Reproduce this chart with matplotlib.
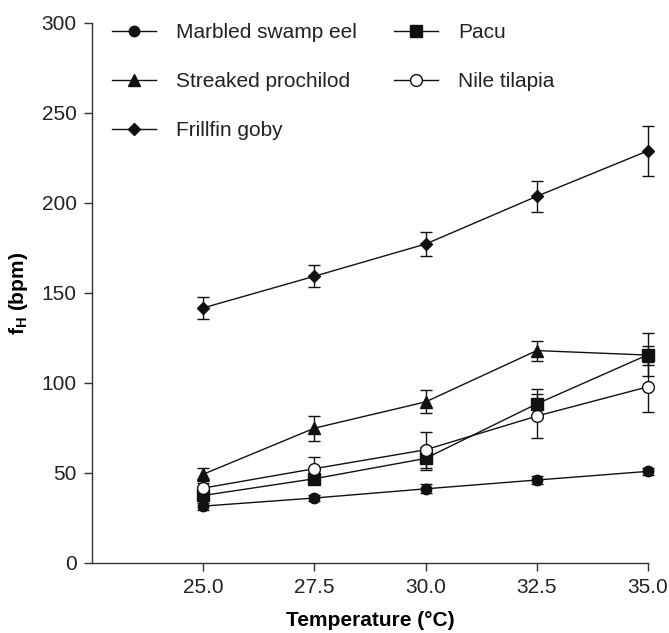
import numpy as np
import matplotlib.pyplot as plt

plt.rcParams['font.family'] = ['Liberation Sans', 'DejaVu Sans']
plt.rcParams['mathtext.fontset'] = 'custom'
plt.rcParams['mathtext.rm'] = 'Liberation Sans'
plt.rcParams['mathtext.bf'] = 'Liberation Sans:bold'

# ---------------- data ----------------
temperature = [25.0, 27.5, 30.0, 32.5, 35.0]

eel = [31.6, 36.1, 41.2, 46.1, 50.9]
eel_err = [2.0, 1.5, 2.5, 2.0, 2.0]

pacu = [37.5, 46.8, 58.1, 88.4, 115.7]
pacu_err = [3.0, 3.0, 6.5, 8.0, 12.0]

prochilod = [49.3, 74.9, 89.5, 118.0, 115.5]
prochilod_err = [3.5, 7.0, 6.4, 5.6, 5.3]

tilapia = [41.6, 52.4, 62.9, 81.6, 97.9]
tilapia_err = [3.0, 6.4, 10.0, 12.3, 14.0]

goby = [141.7, 159.3, 177.2, 203.7, 229.0]
goby_err = [6.0, 6.0, 6.5, 8.5, 14.0]

# ---------------- plot ----------------
fig = plt.figure(figsize=(6.69, 6.33), dpi=100)
ax = fig.add_axes([0.1375, 0.1106, 0.8311, 0.8531])

ink = '#111111'
common = dict(color=ink, lw=1.0, elinewidth=1.0, capsize=4, capthick=1.0,
              markeredgecolor=ink, clip_on=False)

h_eel = ax.errorbar(temperature, eel, yerr=eel_err, marker='o', ms=7.5,
                    mfc=ink, label='Marbled swamp eel', **common)
h_pro = ax.errorbar(temperature, prochilod, yerr=prochilod_err, marker='^', ms=8.5,
                    mfc=ink, label='Streaked prochilod', **common)
h_gob = ax.errorbar(temperature, goby, yerr=goby_err, marker='D', ms=6.5,
                    mfc=ink, label='Frillfin goby', **common)
h_pac = ax.errorbar(temperature, pacu, yerr=pacu_err, marker='s', ms=8,
                    mfc=ink, label='Pacu', **common)
h_til = ax.errorbar(temperature, tilapia, yerr=tilapia_err, marker='o', ms=8.5,
                    mfc='white', label='Nile tilapia', **common)

ax.set_xlim(22.5, 35.0)
ax.set_ylim(0, 300)
ax.set_xticks(temperature)
ax.set_xticklabels(['%.1f' % t for t in temperature])
ax.set_yticks(np.arange(0, 301, 50))

for s in ['top', 'right']:
    ax.spines[s].set_visible(False)
for s in ['left', 'bottom']:
    ax.spines[s].set_color('#333333')
    ax.spines[s].set_linewidth(1.0)
ax.tick_params(direction='out', length=6, width=1.0, color='#333333',
               labelsize=15, labelcolor='#222222', pad=5)

ax.set_xlabel('Temperature (°C)', fontsize=15, fontweight='bold', labelpad=10)
ax.set_ylabel(r'$\mathbf{f_{H}}$ (bpm)', fontsize=15, fontweight='bold', labelpad=8)

handles = [h_eel, h_pro, h_gob, h_pac, h_til]
leg = ax.legend(handles=[h[0] for h in handles],
                labels=[h.get_label() for h in handles],
                ncol=2, frameon=False, loc='upper left',
                bbox_to_anchor=(0.002, 1.035), fontsize=15,
                handlelength=2.1, handletextpad=1.0,
                labelspacing=1.45, columnspacing=1.75)
for t in leg.get_texts():
    t.set_color('#222222')

fig.savefig('out.png', dpi=100)
